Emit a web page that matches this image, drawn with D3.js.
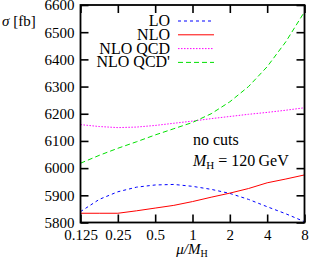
<!DOCTYPE html>
<html>
<head>
<meta charset="utf-8">
<script src="https://cdn.jsdelivr.net/npm/d3@7"></script>
<style>
  body { margin: 0; background: #fff; }
  text { font-family: "Liberation Serif", "Times New Roman", serif; }
</style>
</head>
<body>
<div id="chart"></div>
<script>
// scale factor mu/M_H, half-octave steps
var mu = [0.125, 0.177, 0.25, 0.354, 0.5, 0.707, 1, 1.414, 2, 2.83, 4, 5.66, 8];
var lo = [5840, 5885, 5913, 5930, 5938, 5940, 5933, 5922, 5907, 5885, 5858, 5832, 5803];
var nlo = [5834, 5834, 5834, 5843, 5853, 5863, 5877, 5893, 5908, 5925, 5946, 5960, 5975];
var nloQcd = [6160, 6153, 6149, 6151, 6157, 6165, 6173, 6182, 6190, 6198, 6205, 6213, 6222];
var nloQcdP = [6018, 6047, 6073, 6097, 6122, 6145, 6168, 6200, 6244, 6300, 6373, 6465, 6575];

var xTicks = [0.125, 0.25, 0.5, 1, 2, 4, 8];
var xTickLabels = ['0.125', '0.25', '0.5', '1', '2', '4', '8'];
var yTicks = [5800, 5900, 6000, 6100, 6200, 6300, 6400, 6500, 6600];

var series = [
  {name: 'LO', values: lo, color: '#0000ff', dash: '3,3'},
  {name: 'NLO', values: nlo, color: '#ff0000', dash: null},
  {name: 'NLO QCD', values: nloQcd, color: '#ff00ff', dash: '1.5,1.5'},
  {name: "NLO QCD'", values: nloQcdP, color: '#00e000', dash: '5,3'}
];

var W = 309, H = 266;
var pl = 80.5, pr = 304.5, pt = 5, pb = 222.5;

var svg = d3.select('#chart').append('svg')
    .attr('width', W)
    .attr('height', H);

var x = d3.scaleLog().base(2).domain([0.125, 8]).range([pl, pr]);
var y = d3.scaleLinear().domain([5800, 6600]).range([pb, pt]);

// clip
svg.append('clipPath').attr('id', 'clip')
  .append('rect')
    .attr('x', pl).attr('y', pt)
    .attr('width', pr - pl).attr('height', pb - pt);

var line = d3.line()
    .x(function(d) { return x(d[0]); })
    .y(function(d) { return y(d[1]); });

var g = svg.append('g').attr('clip-path', 'url(#clip)');
series.forEach(function(s) {
  g.append('path')
      .datum(mu.map(function(m, i) { return [m, s.values[i]]; }))
      .attr('fill', 'none')
      .attr('stroke', s.color)
      .attr('stroke-width', 1)
      .attr('stroke-dasharray', s.dash)
      .attr('d', line);
});

// axes, ticks inside
function styleAxis(sel) {
  sel.select('.domain').remove();
  sel.selectAll('.tick line').attr('stroke', '#000').attr('stroke-width', 1.6);
  sel.selectAll('.tick text')
      .attr('fill', '#000')
      .style('font-family', '"Liberation Serif", serif')
      .style('font-size', '15px');
}

svg.append('g')
    .attr('transform', 'translate(0,' + pb + ')')
    .call(d3.axisBottom(x).tickValues(xTicks)
      .tickFormat(function(d, i) { return xTickLabels[i]; })
      .tickSizeInner(-8).tickSizeOuter(0).tickPadding(7))
    .call(styleAxis);

svg.append('g')
    .attr('transform', 'translate(0,' + pt + ')')
    .call(d3.axisTop(x).tickValues(xTicks).tickFormat('')
      .tickSizeInner(-8).tickSizeOuter(0))
    .call(styleAxis);

svg.append('g')
    .attr('transform', 'translate(' + pl + ',0)')
    .call(d3.axisLeft(y).tickValues(yTicks)
      .tickFormat(d3.format('d'))
      .tickSizeInner(-8).tickSizeOuter(0).tickPadding(6))
    .call(styleAxis);

svg.append('g')
    .attr('transform', 'translate(' + pr + ',0)')
    .call(d3.axisRight(y).tickValues(yTicks).tickFormat('')
      .tickSizeInner(-8).tickSizeOuter(0))
    .call(styleAxis);

svg.append('rect')
    .attr('x', pl).attr('y', pt)
    .attr('width', pr - pl).attr('height', pb - pt)
    .attr('fill', 'none')
    .attr('stroke', '#000')
    .attr('stroke-width', 1.8);

// legend
var leg = svg.append('g');
series.forEach(function(s, i) {
  var ly = 21 + i * 13.8;
  leg.append('text')
      .attr('x', 170).attr('y', ly + 5)
      .attr('text-anchor', 'end')
      .style('font-size', '16px')
      .text(s.name);
  leg.append('line')
      .attr('x1', 178).attr('x2', 214)
      .attr('y1', ly).attr('y2', ly)
      .attr('stroke', s.color)
      .attr('stroke-width', 1)
      .attr('stroke-dasharray', s.dash);
});

// annotations
svg.append('text')
    .attr('x', 193).attr('y', 145)
    .style('font-size', '16px')
    .text('no cuts');

var mh = svg.append('text')
    .attr('x', 193).attr('y', 166)
    .style('font-size', '16px');
mh.append('tspan').style('font-style', 'italic').text('M');
mh.append('tspan').attr('dy', 3).style('font-size', '11px').text('H');
mh.append('tspan').attr('dy', -3).text(' = 120\u2009GeV');

// y label
var yl = svg.append('text')
    .attr('x', 2).attr('y', 26)
    .style('font-size', '15px');
yl.append('tspan').style('font-style', 'italic').text('\u03c3');
yl.append('tspan').text(' [fb]');

// x label
var xl = svg.append('text')
    .attr('x', 192).attr('y', 254)
    .attr('text-anchor', 'middle')
    .style('font-size', '15px');
xl.append('tspan').style('font-style', 'italic').text('\u03bc/M');
xl.append('tspan').attr('dy', 3).style('font-size', '10px').text('H');
</script>
</body>
</html>
